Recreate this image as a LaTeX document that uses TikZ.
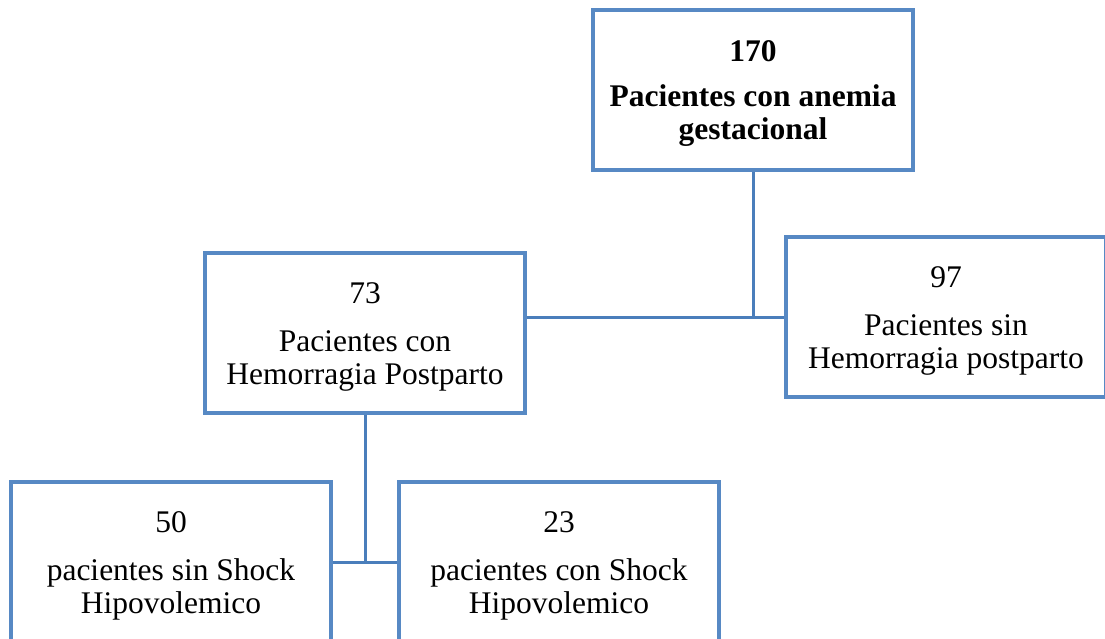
\documentclass[tikz,border=0pt]{standalone}
\usepackage{fontspec}
\setmainfont{Liberation Serif}
\definecolor{boxblue}{RGB}{87,137,196}
\definecolor{lineblue}{RGB}{74,126,187}
\begin{document}
\begin{tikzpicture}[x=1pt,y=-1pt,
  box/.style={draw=boxblue, line width=3.5pt, fill=white, minimum width=320pt, minimum height=160pt,
    inner sep=0pt},
  txt/.style={inner sep=0pt, align=center, yshift=-4pt, font=\fontsize{31.5}{33}\selectfont},
  conn/.style={draw=lineblue, line width=3pt}]
\useasboundingbox (0,0) rectangle (1105,639);
\clip (0,0) rectangle (1105,639);
\fill[white] (0,0) rectangle (1105,639);
\node[box] (top) at (753,90) {};
\node[box] (ml) at (365,333) {};
\node[box] (rt) at (946,317) {};
\node[box] (bl) at (171,562) {};
\node[box] (br) at (559,562) {};
\node[txt, font=\fontsize{31.5}{33}\selectfont\bfseries] (ttop) at (top.center) {170\\[12pt]Pacientes con anemia\\gestacional};
\node[txt] (tml) at (ml.center) {73\\[15pt]Pacientes con\\Hemorragia Postparto};
\node[txt] (trt) at (rt.center) {97\\[15pt]Pacientes sin\\Hemorragia postparto};
\node[txt] (tbl) at (bl.center) {50\\[15pt]pacientes sin Shock\\Hipovolemico};
\node[txt] (tbr) at (br.center) {23\\[15pt]pacientes con Shock\\Hipovolemico};
\coordinate (j1) at (top.south |- rt.west);
\coordinate (j2) at (ml.south |- bl.east);
\draw[conn] (top.south) -- (j1);
\draw[conn] (ml.east |- rt.west) -- (rt.west);
\draw[conn] (ml.south) -- (j2);
\draw[conn] (bl.east) -- (br.west);
\end{tikzpicture}
\end{document}
